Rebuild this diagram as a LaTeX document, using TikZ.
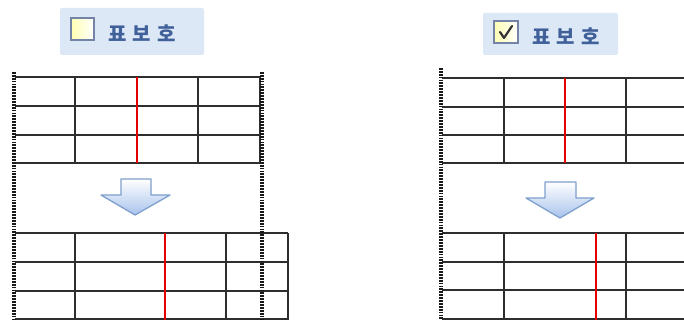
\documentclass[tikz,border=0pt]{standalone}
\usepackage{fontspec}
\newfontfamily\kofont[LetterSpace=30]{Noto Sans CJK KR}
\definecolor{lblbg}{HTML}{DDE8F7}
\definecolor{lbltxt}{HTML}{40609A}
\definecolor{cbborder}{HTML}{7384A6}
\definecolor{arrowdraw}{HTML}{7F9FCC}
\definecolor{arrowfill}{HTML}{A8C3EC}
\definecolor{tline}{HTML}{2E2E2E}
\tikzset{
  lblbox/.style={fill=lblbg, rounded corners=2pt},
  lbltext/.style={text=lbltxt, font=\kofont\bfseries\fontsize{20}{20}\selectfont, inner sep=0pt, anchor=west},
  cbox/.style={draw=cbborder, line width=1.3pt, left color=yellow!30, right color=white},
  gridline/.style={draw=tline, line width=1.5pt},
  redline/.style={draw=red!90!black, line width=1.7pt},
  rulerline/.style={draw=black!90, line width=3.2pt, dash pattern=on 1.8pt off 1.1pt},
  downarrow/.style={draw=arrowdraw, line width=1.3pt, top color=white, bottom color=arrowfill, line join=round},
}
\begin{document}
\begin{tikzpicture}[x=1pt,y=-1pt]
\useasboundingbox (0,0) rectangle (684,320);
\fill[white] (0,0) rectangle (684,320);

% ---------- left panel ----------
\fill[lblbox] (60,8) rectangle (204,55);
\draw[cbox] (71,18) rectangle (94,40);
\node[lbltext] (ltxt) at (108,33) {표보호};

% top table
\foreach \y in {77,106,135,163} \draw[gridline] (15,\y) -- (260,\y);
\foreach \x in {75,198,260} \draw[gridline] (\x,77) -- (\x,163);
\draw[redline] (137,77) -- (137,163);

% arrow
\draw[downarrow] (121,179) -- (151,179) -- (151,195) -- (170,195) -- (135,215) -- (101,195) -- (121,195) -- cycle;

% bottom table
\foreach \y in {233,262,291,319} \draw[gridline] (15,\y) -- (288,\y);
\foreach \x in {75,226,288} \draw[gridline] (\x,233) -- (\x,320);
\draw[redline] (165,233) -- (165,320);

% rulers
\draw[rulerline] (14,72) -- (14,320);
\draw[rulerline] (262,72) -- (262,320);

% ---------- right panel ----------
\fill[lblbox] (483,13) rectangle (618,55);
\draw[cbox] (494,21) rectangle (518,43);
\draw[draw=black!80, line width=2.2pt, line cap=round, line join=round] (500,32) -- (504,38) -- (512,26);
\node[lbltext] (rtxt) at (532,36) {표보호};

% top table
\foreach \y in {78,107,135,163} \draw[gridline] (442,\y) -- (684,\y);
\foreach \x in {504,626} \draw[gridline] (\x,78) -- (\x,163);
\draw[redline] (565,78) -- (565,163);

% arrow
\draw[downarrow] (545,182) -- (576,182) -- (576,198) -- (594,198) -- (560,218) -- (526,198) -- (545,198) -- cycle;

% bottom table
\foreach \y in {233,262,290,319} \draw[gridline] (442,\y) -- (684,\y);
\foreach \x in {504,626} \draw[gridline] (\x,233) -- (\x,320);
\draw[redline] (596,233) -- (596,320);

\draw[rulerline] (441,68) -- (441,320);
\end{tikzpicture}
\end{document}
